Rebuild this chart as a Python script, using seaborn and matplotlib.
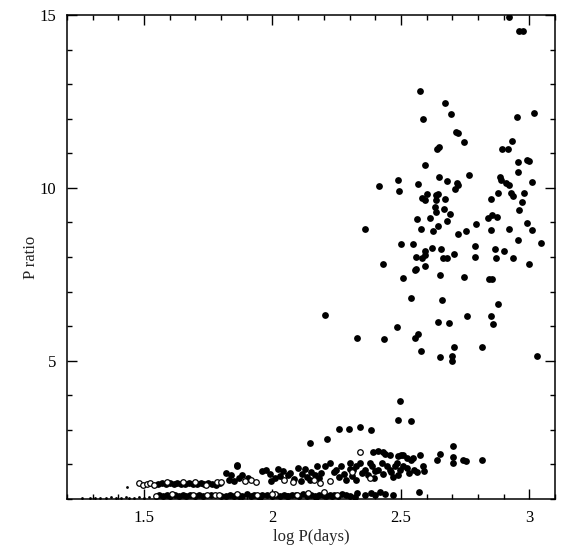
import numpy as np
import matplotlib
matplotlib.use("Agg")
import matplotlib.pyplot as plt
import seaborn as sns
from matplotlib.ticker import MultipleLocator

# upper cluster (long periods, large P ratio) - filled circles
hi_x = [2.922, 2.960, 2.976, 2.573, 2.672, 2.697, 2.951, 3.020, 2.586, 2.714,
        2.724, 2.744, 2.931, 2.894, 2.917, 2.640, 2.647, 2.594, 2.957, 2.990,
        3.000, 2.957, 2.416, 2.489, 2.566, 2.647, 2.681, 2.717, 2.722, 2.709,
        2.766, 2.887, 2.891, 2.909, 2.922, 3.009, 2.494, 2.584, 2.594, 2.600,
        2.635, 2.636, 2.643, 2.672, 2.880, 2.852, 2.930, 2.937, 2.978, 2.971,
        2.961, 2.634, 2.635, 2.668, 2.690, 2.561, 2.613, 2.680, 2.643, 2.626,
        2.579, 2.838, 2.856, 2.875, 2.792, 2.753, 2.722, 2.851, 2.921, 2.990,
        3.010, 2.360, 2.956, 3.045, 2.500, 2.549, 2.622, 2.657, 2.788, 2.865,
        2.901, 2.595, 2.593, 2.560, 2.584, 2.664, 2.681, 2.707, 2.790, 2.872,
        2.938, 2.432, 3.000, 2.553, 2.559, 2.595, 2.654, 2.508, 2.744, 2.843,
        2.856, 2.540, 2.660, 2.878, 2.757, 2.851, 2.645, 2.687, 2.860, 2.484,
        2.331, 2.436, 2.553, 2.568, 2.580, 2.708, 2.817, 2.652, 2.699, 2.699,
        3.028, 2.204]
hi_y = [14.93, 14.54, 14.54, 12.79, 12.44, 12.13, 12.05, 12.17, 11.98, 11.62,
        11.58, 11.32, 11.35, 11.13, 11.13, 11.12, 11.19, 10.66, 10.75, 10.80,
        10.78, 10.45, 10.06, 10.22, 10.12, 10.30, 10.20, 10.15, 10.07, 9.97,
        10.37, 10.32, 10.23, 10.14, 10.08, 10.18, 9.91, 9.72, 9.65, 9.83,
        9.78, 9.65, 9.83, 9.67, 9.86, 9.69, 9.85, 9.77, 9.85, 9.58,
        9.36, 9.46, 9.30, 9.38, 9.24, 9.10, 9.13, 9.04, 8.90, 8.76,
        8.82, 9.12, 9.22, 9.15, 8.96, 8.76, 8.67, 8.77, 8.81, 8.97,
        8.79, 8.81, 8.50, 8.40, 8.37, 8.37, 8.27, 8.22, 8.31, 8.23,
        8.16, 8.16, 8.06, 8.00, 7.97, 7.96, 7.96, 8.09, 8.00, 7.98,
        7.98, 7.79, 7.79, 7.63, 7.65, 7.73, 7.49, 7.38, 7.42, 7.37,
        7.37, 6.81, 6.75, 6.63, 6.29, 6.29, 6.13, 6.09, 6.05, 5.98,
        5.67, 5.64, 5.66, 5.78, 5.27, 5.41, 5.41, 5.12, 5.15, 5.00,
        5.14, 6.31]

# intermediate points (P ratio 2-4)
mid_x = [2.497, 2.487, 2.538, 2.260, 2.297, 2.341, 2.382, 2.212, 2.148, 2.704,
         2.392, 2.410, 2.430, 2.438, 2.458, 2.490, 2.510, 2.524, 2.538, 2.548,
         2.574, 2.653, 2.640, 2.704, 2.704, 2.740, 2.752, 2.817, 1.861, 2.500]
mid_y = [3.84, 3.29, 3.27, 3.03, 3.03, 3.07, 3.01, 2.75, 2.61, 2.52,
         2.35, 2.38, 2.35, 2.31, 2.26, 2.23, 2.28, 2.19, 2.14, 2.19,
         2.26, 2.31, 2.14, 2.22, 2.04, 2.14, 2.09, 2.13, 1.96, 2.27]

# dense low band - filled circles
band_x = [1.555, 1.570, 1.585, 1.600, 1.615, 1.630, 1.645, 1.660, 1.675, 1.690,
          1.705, 1.720, 1.735, 1.750, 1.765, 1.780, 1.795,
          1.560, 1.575, 1.590, 1.600, 1.620, 1.635, 1.650, 1.665, 1.680, 1.700,
          1.715, 1.730, 1.760, 1.800,
          1.820, 1.840, 1.860, 1.830, 1.850, 1.870, 1.960, 1.975, 1.995, 2.010,
          2.030, 2.060, 2.070, 2.100, 1.880, 1.905, 2.040, 2.085, 2.115, 2.125,
          2.135, 2.150, 2.165, 2.175, 2.190, 2.110, 2.145, 2.180, 1.990, 2.020,
          2.204, 2.223, 2.249, 2.268, 2.288, 2.301, 2.314, 2.325, 2.327, 2.340,
          2.360, 2.380, 2.386, 2.412, 2.425, 2.445, 2.458, 2.477, 2.484, 2.497,
          2.510, 2.524, 2.550, 2.562, 2.588, 2.240, 2.280, 2.300, 2.350, 2.370,
          2.400, 2.430, 2.460, 2.490, 2.530, 2.260, 2.310, 2.395, 2.470, 2.590,
          1.820, 1.835, 1.850, 1.865, 1.880, 1.900, 1.915, 1.930, 1.945, 1.960,
          1.980, 2.000, 2.015, 2.030, 2.045, 2.060, 2.075, 2.090, 2.105, 2.120,
          2.135, 2.150, 2.165, 2.180, 2.195, 2.210, 2.225, 2.240, 2.255, 2.270,
          2.285, 2.300, 2.330, 2.360, 2.385, 2.400, 2.420, 2.440, 2.470, 2.571,
          1.870, 1.950, 2.055, 2.170, 2.230, 2.320]
band_y = [1.44, 1.46, 1.43, 1.45, 1.42, 1.46, 1.44, 1.43, 1.46, 1.44,
          1.42, 1.45, 1.43, 1.46, 1.44, 1.41, 1.45,
          1.12, 1.10, 1.13, 1.10, 1.12, 1.10, 1.12, 1.10, 1.13, 1.10,
          1.12, 1.10, 1.11, 1.10,
          1.75, 1.70, 1.97, 1.56, 1.51, 1.61, 1.80, 1.85, 1.51, 1.61,
          1.66, 1.70, 1.75, 1.90, 1.68, 1.62, 1.82, 1.58, 1.72, 1.86,
          1.64, 1.78, 1.69, 1.95, 1.74, 1.52, 1.55, 1.60, 1.72, 1.88,
          1.95, 2.04, 1.85, 1.95, 1.56, 2.04, 1.85, 1.56, 1.95, 2.04,
          1.85, 2.04, 1.95, 1.85, 2.04, 1.95, 1.85, 1.95, 2.04, 1.85,
          1.95, 1.90, 1.85, 1.78, 1.96, 1.78, 1.72, 1.88, 1.75, 1.68,
          1.80, 1.72, 1.78, 1.70, 1.75, 1.64, 1.66, 1.62, 1.64, 1.82,
          1.10, 1.13, 1.09, 1.12, 1.10, 1.14, 1.10, 1.12, 1.09, 1.13,
          1.11, 1.10, 1.13, 1.09, 1.12, 1.10, 1.13, 1.11, 1.10, 1.14,
          1.10, 1.12, 1.09, 1.13, 1.11, 1.10, 1.13, 1.12, 1.10, 1.14,
          1.11, 1.10, 1.16, 1.12, 1.18, 1.13, 1.20, 1.15, 1.12, 1.20,
          1.08, 1.07, 1.08, 1.07, 1.08, 1.07]

# open circles
open_x = [1.480, 1.495, 1.510, 1.525, 1.540, 1.590, 1.650, 1.700, 1.740, 1.785,
          1.800, 1.545, 1.610, 1.690, 1.745, 1.775, 1.790,
          1.895, 1.915, 1.935, 2.045, 2.080, 2.160, 2.185, 1.940, 2.010, 2.095,
          2.342, 2.308, 2.380, 2.223, 1.860, 2.000, 2.140, 2.200, 2.250]
open_y = [1.46, 1.40, 1.44, 1.47, 1.41, 1.48, 1.48, 1.48, 1.40, 1.48,
          1.50, 1.10, 1.14, 1.13, 1.13, 1.12, 1.13,
          1.51, 1.56, 1.50, 1.55, 1.48, 1.55, 1.45, 1.12, 1.14, 1.13,
          2.37, 1.77, 1.61, 1.51, 1.14, 1.15, 1.16, 1.20, 1.13]

# tiny dots along the bottom
dot_x = [1.26, 1.29, 1.31, 1.33, 1.35, 1.37, 1.39, 1.41, 1.43, 1.44,
         1.46, 1.48, 1.50, 1.52, 1.435]
dot_y = [1.03, 1.04, 1.03, 1.04, 1.03, 1.05, 1.04, 1.03, 1.05, 1.04,
         1.03, 1.05, 1.04, 1.06, 1.34]

sns.set_style("ticks")
plt.rcParams['font.family'] = ['Liberation Serif', 'DejaVu Serif']

fig = plt.figure(figsize=(5.7, 5.45), dpi=100)
ax = fig.add_axes([0.1175, 0.0844, 0.8562, 0.8881])

sns.scatterplot(x=hi_x + mid_x + band_x, y=hi_y + mid_y + band_y, ax=ax,
                color='black', s=24, linewidth=0)
sns.scatterplot(x=open_x, y=open_y, ax=ax, facecolor='white',
                edgecolor='black', s=16, linewidth=0.9)
sns.scatterplot(x=dot_x, y=dot_y, ax=ax, color='black', s=4, linewidth=0)

ax.set_xlim(1.2, 3.1)
ax.set_ylim(1, 15)
ax.set_xticks([1.5, 2, 2.5, 3])
ax.set_xticklabels(['1.5', '2', '2.5', '3'])
ax.set_yticks([5, 10, 15])
ax.xaxis.set_minor_locator(MultipleLocator(0.1))
ax.yaxis.set_minor_locator(MultipleLocator(1))
ax.tick_params(which='both', direction='in', top=True, right=True,
               labelsize=12, width=1, colors='black')
ax.tick_params(which='major', length=7, pad=8)
ax.tick_params(which='minor', length=3.5)
for sp in ax.spines.values():
    sp.set_linewidth(1.1)
    sp.set_color('black')

ax.set_xlabel("log P(days)", fontsize=12, labelpad=2)
ax.set_ylabel("P ratio", fontsize=12, labelpad=0)

plt.savefig("out.png", dpi=100)
